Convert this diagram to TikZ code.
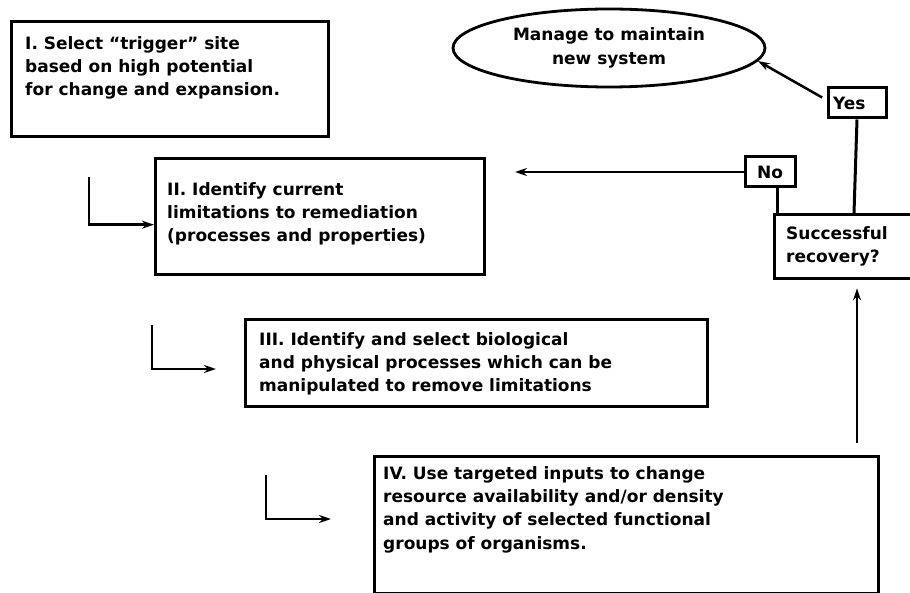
\documentclass[tikz,border=0pt]{standalone}
\usepackage{fontspec}
\setmainfont{DejaVu Sans}
\usetikzlibrary{arrows.meta,shapes.geometric}
\begin{document}
\begin{tikzpicture}[x=1pt,y=-1pt,>={Stealth[length=12pt,width=8pt,inset=4pt]},
  stepbox/.style={draw,line width=3.4pt,inner sep=0pt,anchor=north west},
  tagbox/.style={draw,line width=3pt,inner xsep=5pt,inner ysep=0pt,minimum height=30pt,
    font=\fontsize{17}{20}\selectfont\bfseries},
  txt/.style={inner sep=0pt,anchor=north west,align=left,font=\fontsize{17}{23.3}\selectfont\bfseries},
  link/.style={line width=2.5pt}]
\useasboundingbox (0,0) rectangle (910,593);

% the four steps
\node[stepbox,minimum width=317,minimum height=115] (s1) at (10,20) {};
\node[txt] (t1) at ([shift={(15,16)}]s1.north west) {I. Select “trigger” site\\based on high potential\\for change and expansion.};
\node[stepbox,minimum width=329,minimum height=116] (s2) at (154,157) {};
\node[txt] (t2) at ([shift={(13,25)}]s2.north west) {II. Identify current\\limitations to remediation\\(processes and properties)};
\node[stepbox,minimum width=462,minimum height=87] (s3) at (244,318) {};
\node[txt] (t3) at ([shift={(15,14)}]s3.north west) {III. Identify and select biological\\and physical processes which can be\\manipulated to remove limitations};
\node[stepbox,minimum width=504,minimum height=137] (s4) at (373,455) {};
\node[txt] (t4) at ([shift={(10,11)}]s4.north west) {IV. Use targeted inputs to change\\resource availability and/or density\\and activity of selected functional\\groups of organisms.};

% decision and outcome
\node[stepbox,minimum width=165,minimum height=64] (rec) at (773,213) {};
\node[txt] (t5) at ([shift={(13,13)}]rec.north west) {Successful\\recovery?};
\node[tagbox,minimum width=58,text width=48pt,align=left] (yes) at (857,103) {Yes};
\node[tagbox,minimum width=50] (no) at (770,172) {No};
\node[draw,ellipse,line width=2.8pt,minimum width=312,minimum height=78,inner sep=0pt,align=center,
  font=\fontsize{17}{23.3}\selectfont\bfseries] (goal) at (609,48) {Manage to maintain\\new system};

% connectors
\coordinate (b1) at (89,177);
\coordinate (b2) at (152,325);
\coordinate (e2) at (216,369);
\coordinate (b3) at (266,475);
\coordinate (e3) at (331,519);
\coordinate (up) at (857,443);
\coordinate (back) at (515,172);
\draw[link,->] (b1) |- ([yshift=-8pt]s2.west);
\draw[link,->] (b2) |- (e2);
\draw[link,->] (b3) |- (e3);
\draw[link,->,shorten >=8pt] (up) -- (up |- rec.south);
\draw[link,line width=3pt] ([xshift=7pt]no.south) -- ([xshift=7pt]no.south |- rec.north);
\draw[link,line width=3pt] (yes.south) -- ([xshift=-3pt]yes.south |- rec.north);
\draw[link,->] (no) -- (back);
\draw[link,->,shorten <=5pt] ([yshift=3pt]yes.west) -- (goal.-5);
\end{tikzpicture}
\end{document}
